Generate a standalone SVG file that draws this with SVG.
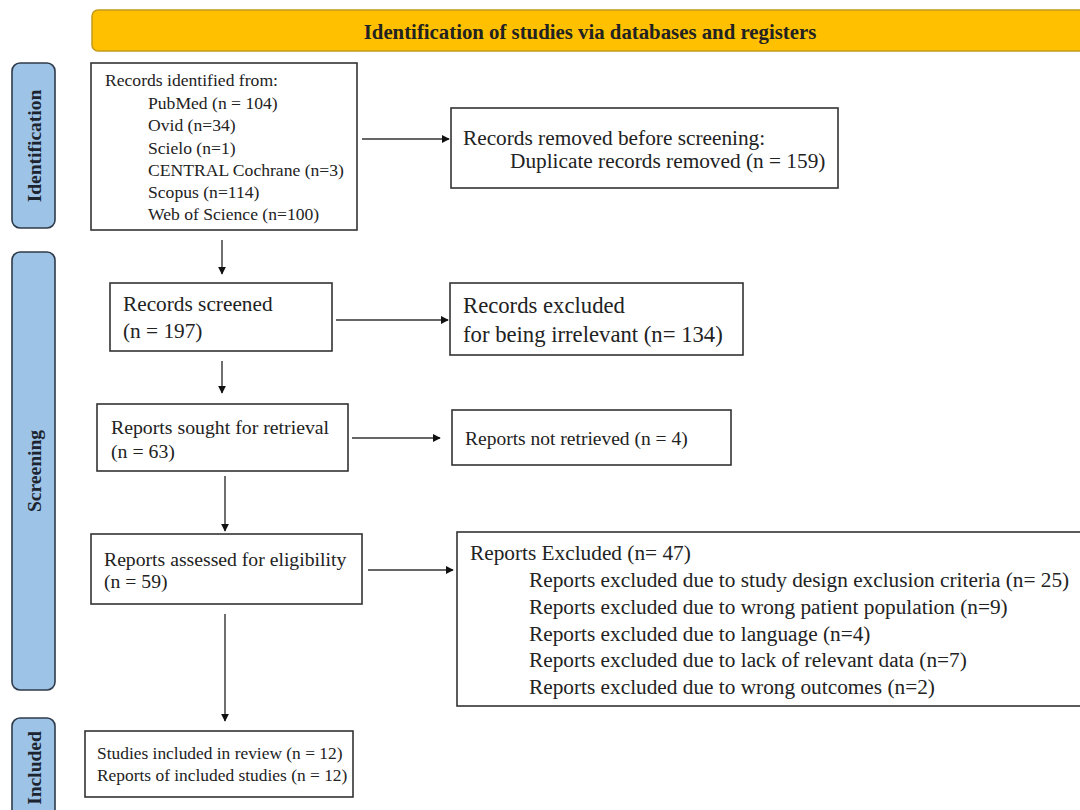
<svg xmlns="http://www.w3.org/2000/svg" width="1080" height="810" viewBox="0 0 1080 810">
<style>
.box{fill:#fff;stroke:#333;stroke-width:1.6}
.side{fill:#9dc3e6;stroke:#2f3b4a;stroke-width:1.6}
.t{font-family:"Liberation Serif",serif;fill:#222}
.sl{font-family:"Liberation Serif",serif;font-weight:bold;font-size:19.5px;fill:#1c2430;text-anchor:middle}
.con{stroke:#333;stroke-width:1.4;fill:none;marker-end:url(#ah)}
</style>
<defs>
<marker id="ah" viewBox="0 0 10 10" refX="9" refY="5" markerWidth="8" markerHeight="8" orient="auto" markerUnits="userSpaceOnUse">
<path d="M0,0 L10,5 L0,10 z" fill="#111"/>
</marker>
</defs>
<rect width="1080" height="810" fill="#fff"/>
<g id="header">
<rect x="92" y="10" width="1010" height="41" rx="6" fill="#ffc000" stroke="#c49a1c" stroke-width="1.5"/>
<text x="590" y="38.5" class="t" font-weight="bold" font-size="20.8" text-anchor="middle">Identification of studies via databases and registers</text>
</g>
<g id="side-identification">
<rect x="12" y="63" width="43" height="165" rx="8" class="side"/>
<text class="sl" transform="translate(41,146) rotate(-90)">Identification</text>
</g>
<g id="side-screening">
<rect x="12" y="252" width="43" height="438" rx="8" class="side"/>
<text class="sl" transform="translate(41,471) rotate(-90)">Screening</text>
</g>
<g id="side-included">
<rect x="12" y="718" width="43" height="110" rx="8" class="side"/>
<text class="sl" transform="translate(41,768) rotate(-90)">Included</text>
</g>
<g id="records-identified">
<rect x="91" y="63" width="266" height="167" class="box"/>
<text class="t" font-size="17.6"><tspan x="105" y="86">Records identified from:</tspan><tspan x="148" y="108.5">PubMed (n = 104)</tspan><tspan x="148" y="131">Ovid (n=34)</tspan><tspan x="148" y="153.5">Scielo (n=1)</tspan><tspan x="148" y="176">CENTRAL Cochrane (n=3)</tspan><tspan x="148" y="198">Scopus (n=114)</tspan><tspan x="148" y="220">Web of Science (n=100)</tspan></text>
</g>
<g id="records-removed">
<rect x="451" y="108" width="387" height="80" class="box"/>
<text class="t" font-size="21.3"><tspan x="463" y="145">Records removed before screening:</tspan><tspan x="510" y="168">Duplicate records removed (n = 159)</tspan></text>
</g>
<g id="records-screened">
<rect x="110" y="283" width="222" height="68" class="box"/>
<text class="t" font-size="21.3"><tspan x="123" y="311">Records screened</tspan><tspan x="123" y="338">(n = 197)</tspan></text>
</g>
<g id="records-excluded">
<rect x="450" y="283" width="293" height="72" class="box"/>
<text class="t" font-size="22.7"><tspan x="463" y="313">Records excluded</tspan><tspan x="463" y="342">for being irrelevant (n= 134)</tspan></text>
</g>
<g id="reports-sought">
<rect x="97" y="404" width="251" height="67" class="box"/>
<text class="t" font-size="19.8"><tspan x="111" y="434">Reports sought for retrieval</tspan><tspan x="111" y="458">(n = 63)</tspan></text>
</g>
<g id="reports-not-retrieved">
<rect x="452" y="410" width="279" height="55" class="box"/>
<text class="t" font-size="19.5" x="465" y="445">Reports not retrieved (n = 4)</text>
</g>
<g id="reports-assessed">
<rect x="91" y="534" width="271" height="70" class="box"/>
<text class="t" font-size="19.7"><tspan x="104" y="566">Reports assessed for eligibility</tspan><tspan x="104" y="588">(n = 59)</tspan></text>
</g>
<g id="reports-excluded">
<rect x="457" y="532" width="640" height="174" class="box"/>
<text class="t" font-size="21.3"><tspan x="470" y="560">Reports Excluded (n= 47)</tspan><tspan x="529" y="587">Reports excluded due to study design exclusion criteria (n= 25)</tspan><tspan x="529" y="614">Reports excluded due to wrong patient population (n=9)</tspan><tspan x="529" y="641">Reports excluded due to language (n=4)</tspan><tspan x="529" y="667">Reports excluded due to lack of relevant data (n=7)</tspan><tspan x="529" y="694">Reports excluded due to wrong outcomes (n=2)</tspan></text>
</g>
<g id="studies-included">
<rect x="85" y="731" width="268" height="66" class="box"/>
<text class="t" font-size="17.4"><tspan x="97" y="759">Studies included in review (n = 12)</tspan><tspan x="97" y="781">Reports of included studies (n = 12)</tspan></text>
</g>
<g id="connectors">
<line x1="362" y1="139" x2="449" y2="139" class="con"/>
<line x1="222" y1="240" x2="222" y2="274" class="con"/>
<line x1="336" y1="320" x2="448" y2="320" class="con"/>
<line x1="222" y1="361" x2="222" y2="393" class="con"/>
<line x1="352" y1="438" x2="440" y2="438" class="con"/>
<line x1="225" y1="476" x2="225" y2="531" class="con"/>
<line x1="368" y1="570" x2="453" y2="570" class="con"/>
<line x1="225" y1="614" x2="225" y2="721" class="con"/>
</g>
</svg>
